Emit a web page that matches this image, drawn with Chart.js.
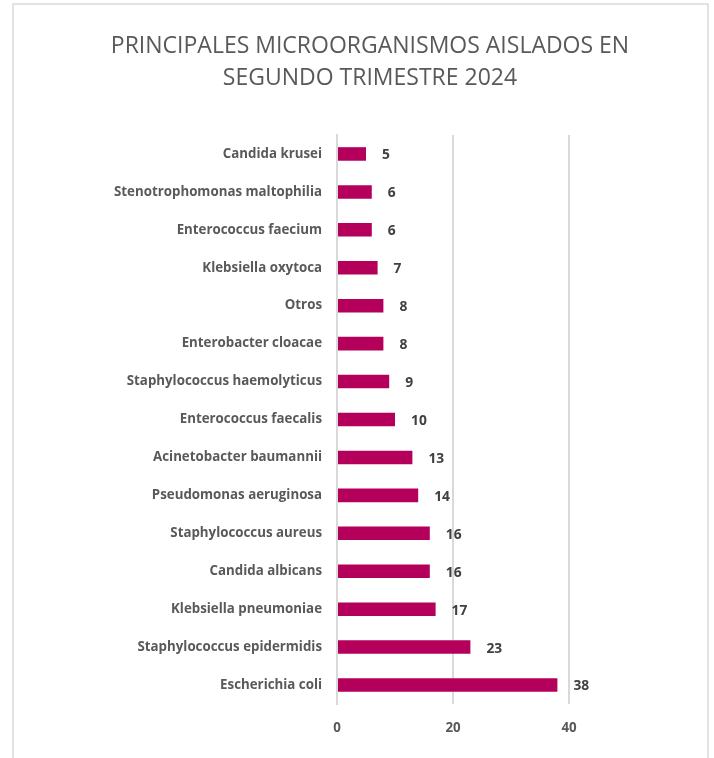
<!DOCTYPE html>
<html>
<head>
<meta charset="utf-8">
<script src="https://cdn.jsdelivr.net/npm/chart.js@4"></script>
<style>
  html,body{margin:0;padding:0;background:#fff;}
  #wrap{position:relative;width:714px;height:758px;}
</style>
</head>
<body>
<div id="wrap"><canvas id="microChart" width="714" height="758"></canvas></div>
<script>
const titleLines = ['PRINCIPALES MICROORGANISMOS AISLADOS EN', 'SEGUNDO TRIMESTRE 2024'];
const organisms = [
  'Candida krusei',
  'Stenotrophomonas maltophilia',
  'Enterococcus faecium',
  'Klebsiella oxytoca',
  'Otros',
  'Enterobacter cloacae',
  'Staphylococcus haemolyticus',
  'Enterococcus faecalis',
  'Acinetobacter baumannii',
  'Pseudomonas aeruginosa',
  'Staphylococcus aureus',
  'Candida albicans',
  'Klebsiella pneumoniae',
  'Staphylococcus epidermidis',
  'Escherichia coli'
];
const isolates = [5, 6, 6, 7, 8, 8, 9, 10, 13, 14, 16, 16, 17, 23, 38];
const xTicks = [0, 20, 40];

const FONT = '"Open Sans", Lato, sans-serif';

// frame + title (drawn by hand, the built-in title centres on the plot area)
const framePlugin = {
  id: 'frame',
  beforeDraw(chart){
    const c = chart.ctx;
    c.save();
    c.strokeStyle = '#d9d9d9';
    c.lineWidth = 1.5;
    c.strokeRect(13, 4, 695, 800);
    c.font = '23px ' + FONT;
    c.fillStyle = '#595959';
    c.textAlign = 'center';
    c.textBaseline = 'alphabetic';
    titleLines.forEach((t, i) => c.fillText(t, 370, 53 + i * 32));
    c.restore();
  }
};

// value labels to the right of each bar
const valueLabels = {
  id: 'valueLabels',
  afterDatasetsDraw(chart){
    const c = chart.ctx;
    const meta = chart.getDatasetMeta(0);
    c.save();
    c.font = 'bold 13.8px ' + FONT;
    c.fillStyle = '#404040';
    c.textAlign = 'left';
    c.textBaseline = 'middle';
    meta.data.forEach((bar, i) => {
      c.fillText(String(isolates[i]), bar.x + 16, bar.y + 1.5);
    });
    c.restore();
  }
};

new Chart(document.getElementById('microChart'), {
  type: 'bar',
  data: {
    labels: organisms,
    datasets: [{
      data: isolates,
      backgroundColor: '#b4005b',
      borderWidth: 0,
      barPercentage: 0.7,
      categoryPercentage: 0.51
    }]
  },
  options: {
    indexAxis: 'y',
    responsive: false,
    animation: false,
    layout: {padding: {top: 135, right: 145, bottom: 0, left: 0}},
    plugins: {
      legend: {display: false},
      tooltip: {enabled: false},
      title: {display: false}
    },
    scales: {
      x: {
        min: 0,
        max: 40,
        afterBuildTicks(scale){ scale.ticks = xTicks.map(v => ({value: v})); },
        afterFit(scale){ scale.height = 54; },
        grid: {color: '#d9d9d9', lineWidth: 2, drawTicks: false},
        border: {display: false},
        ticks: {color: '#595959', font: {family: FONT, size: 13.3, weight: 'bold'}, padding: 16}
      },
      y: {
        afterFit(scale){ scale.width = 337; },
        grid: {display: false, drawTicks: false},
        border: {color: '#d9d9d9', width: 2},
        ticks: {color: '#595959', font: {family: FONT, size: 13.3, weight: 'bold'}, padding: 15}
      }
    }
  },
  plugins: [framePlugin, valueLabels]
});
</script>
</body>
</html>
